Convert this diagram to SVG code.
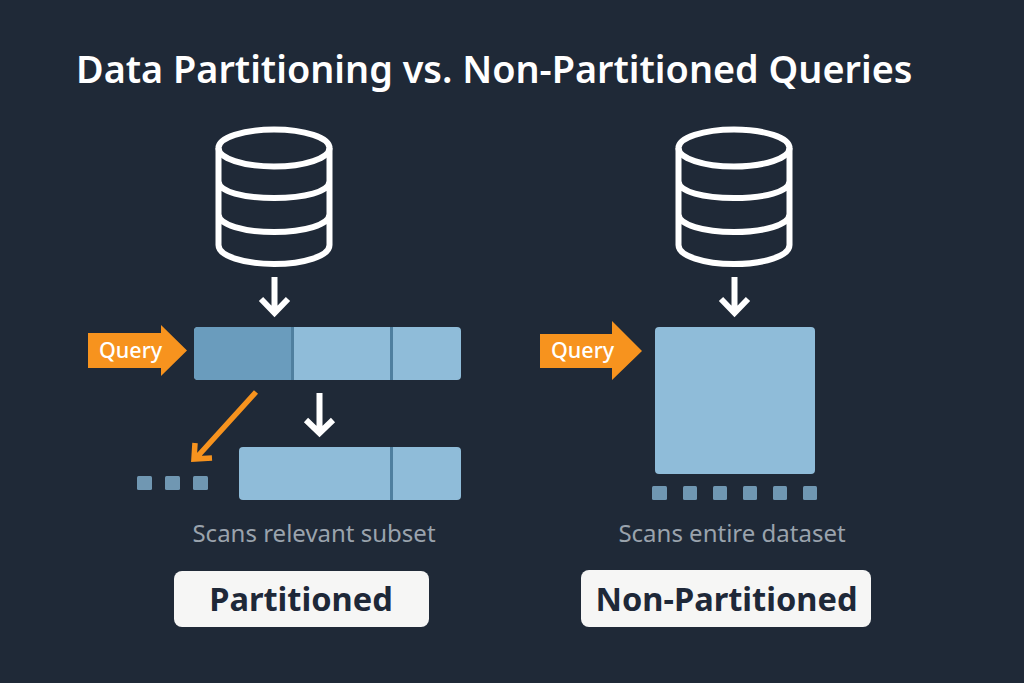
<svg xmlns="http://www.w3.org/2000/svg" width="1024" height="683" viewBox="0 0 1024 683">
<style>
text{font-family:"Noto Sans","Open Sans","Liberation Sans",sans-serif}
.title{font-size:37.8px;font-weight:600;fill:#fff}
.q{font-size:21.500px;font-weight:500;fill:#fff}
.cap{font-size:24px;fill:#9aa3ad;text-anchor:middle}
.lab{font-size:32.600px;font-weight:700;fill:#1e2838;text-anchor:middle}
.cyl{fill:none;stroke:#fff;stroke-width:6}
.wa{fill:none;stroke:#fff;stroke-width:6;stroke-linejoin:miter}
.bar{fill:#8fbcd9}
.div{fill:#4f7f9f}
.sq{fill:#7097b2}
.btn{fill:#f6f6f5}
.orange{fill:#f7931e}
</style>
<rect width="1024" height="683" fill="#1f2937"/>
<text class="title" x="76" y="83">Data Partitioning vs. Non-Partitioned Queries</text>
<defs>
<g id="db"><ellipse class="cyl" cx="0" cy="0" rx="55.5" ry="18.5"/><path class="cyl" d="M-55.5 0V97C-55.5 108-30 116 0 116S55.5 108 55.5 97V0M-55.5 33C-55.5 44-30 50 0 50S55.5 44 55.5 33M-55.5 66C-55.5 77-30 84 0 84S55.5 77 55.5 66"/></g>
</defs>
<g id="db-left"><use href="#db" x="274" y="148"/></g>
<g id="db-right"><use href="#db" x="734" y="148"/></g>
<g id="bar-top">
<rect class="bar" x="194" y="327" width="267" height="53" rx="4"/>
<path d="M198 327H292V380H198a4 4 0 0 1-4-4V331a4 4 0 0 1 4-4z" fill="#6a9cbd"/>
<rect class="div" x="291" y="327" width="3" height="53"/>
<rect class="div" x="390" y="327" width="3" height="53"/>
</g>
<g id="bar-sub">
<rect class="bar" x="239" y="447" width="222" height="53" rx="4"/>
<rect class="div" x="390" y="447" width="3" height="53"/>
</g>
<g id="squares-left">
<rect class="sq" x="137" y="476" width="15" height="14" rx="1.500"/>
<rect class="sq" x="165" y="476" width="15" height="14" rx="1.500"/>
<rect class="sq" x="193" y="476" width="15" height="14" rx="1.500"/>
</g>
<g id="dataset">
<rect class="bar" x="655" y="327" width="160" height="147" rx="4"/>
</g>
<g id="squares-right">
<rect class="sq" x="652" y="486" width="15" height="14" rx="1.500"/>
<rect class="sq" x="683" y="486" width="14" height="14" rx="1.500"/>
<rect class="sq" x="713" y="486" width="14" height="14" rx="1.500"/>
<rect class="sq" x="743" y="486" width="14" height="14" rx="1.500"/>
<rect class="sq" x="773" y="486" width="14" height="14" rx="1.500"/>
<rect class="sq" x="803" y="486" width="14" height="14" rx="1.500"/>
</g>
<g id="connectors">
<path class="wa" d="M274.500 277V314M261 299L274.500 313L288 299"/>
<path class="wa" d="M319.500 393V434M306 420L319.500 433L333 420"/>
<path class="wa" d="M734.500 277V314M721 299L734.500 313L748 299"/>
<path d="M256 392L197 457M195 443L194 459L212 458" fill="none" stroke="#f7931e" stroke-width="5.500"/>
</g>
<g id="query-left">
<path class="orange" d="M88 333H161V325L187 350.500L161 376V368H88z"/>
<text class="q" x="99" y="358">Query</text>
</g>
<g id="query-right">
<path class="orange" d="M540 334H612V321L642 351L612 380V368H540z"/>
<text class="q" x="551" y="358">Query</text>
</g>
<text class="cap" x="314" y="542">Scans relevant subset</text>
<text class="cap" x="732" y="542">Scans entire dataset</text>
<g id="label-partitioned">
<rect class="btn" x="174" y="571" width="255" height="56" rx="8"/>
<text class="lab" x="301" y="611">Partitioned</text>
</g>
<g id="label-non-partitioned">
<rect class="btn" x="581" y="570" width="290" height="57" rx="8"/>
<text class="lab" x="726.500" y="611">Non-Partitioned</text>
</g>
</svg>
